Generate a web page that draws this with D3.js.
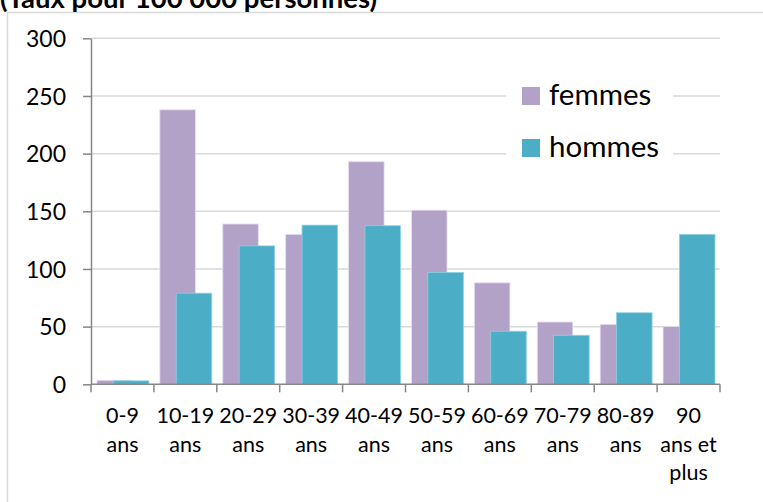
<!DOCTYPE html>
<html><head><meta charset="utf-8">
<script src="https://cdn.jsdelivr.net/npm/d3@7"></script>
<style>
html,body{margin:0;padding:0;background:#fff;overflow:hidden;}
svg{display:block;}
text{font-family:Lato, "Open Sans", sans-serif;fill:#000;}
</style></head>
<body>
<svg id="chart" width="763" height="502"></svg>
<script>
const categories = ["0-9 ans","10-19 ans","20-29 ans","30-39 ans","40-49 ans","50-59 ans","60-69 ans","70-79 ans","80-89 ans","90 ans et plus"];
const categoryLines = [["0-9","ans"],["10-19","ans"],["20-29","ans"],["30-39","ans"],["40-49","ans"],["50-59","ans"],["60-69","ans"],["70-79","ans"],["80-89","ans"],["90","ans et","plus"]];
const femmes = [3.5, 238, 139, 130, 193, 151, 88, 54, 52, 50];
const hommes = [3, 79, 120, 138, 137.5, 97, 46, 42.5, 62, 130];
const seriesNames = ["femmes","hommes"];
const yTicks = [0,50,100,150,200,250,300];
const title = "(Taux pour 100 000 personnes)";

const svg = d3.select("#chart");
const colors = {femmes:"#b2a2c8", hommes:"#4badc6"};

// outer frame
svg.append("line").attr("x1",7.5).attr("x2",763).attr("y1",12.5).attr("y2",12.5).attr("stroke","#d9d9d9").attr("stroke-width",1.5);
svg.append("line").attr("x1",7.5).attr("x2",7.5).attr("y1",12.5).attr("y2",502).attr("stroke","#d9d9d9").attr("stroke-width",1.5);

svg.append("text").attr("x",0).attr("y",7.5).attr("font-weight","bold").attr("font-size",27.5).text(title);

const x0 = 91, x1 = 720, yTop = 38.3, yBot = 384.3;
const x = d3.scaleBand().domain(categories).range([x0,x1]).paddingInner(0).paddingOuter(0);
const y = d3.scaleLinear().domain([0,300]).range([yBot,yTop]);

// gridlines
svg.append("g").selectAll("line").data(yTicks.filter(d=>d>0)).join("line")
  .attr("x1",x0).attr("x2",x1).attr("y1",d=>y(d)).attr("y2",d=>y(d))
  .attr("stroke","#d9d9d9").attr("stroke-width",1.5);

// bars
const bw = x.bandwidth();
const barW = bw*0.565, offF = bw*0.095, offH = bw*0.355;
const g = svg.append("g");
g.selectAll("rect.f").data(femmes).join("rect").attr("class","f")
  .attr("x",(d,i)=>x(categories[i])+offF).attr("width",barW)
  .attr("y",d=>y(d)).attr("height",d=>yBot-y(d))
  .attr("fill",colors.femmes).attr("stroke","#e6dfef").attr("stroke-width",0.8);
g.selectAll("rect.h").data(hommes).join("rect").attr("class","h")
  .attr("x",(d,i)=>x(categories[i])+offH).attr("width",barW)
  .attr("y",d=>y(d)).attr("height",d=>yBot-y(d))
  .attr("fill",colors.hommes).attr("stroke","#8fd0e0").attr("stroke-width",0.8);

// y axis
const yAxis = d3.axisLeft(y).tickValues(yTicks).tickSize(8).tickPadding(17).tickSizeOuter(0);
const ya = svg.append("g").attr("transform",`translate(${x0},0)`).call(yAxis);
ya.selectAll("path,line").attr("stroke","#868686").attr("stroke-width",1.5);
ya.selectAll("text").attr("font-size",23).attr("font-family","Lato").attr("fill","#000").attr("dy","0.36em");

// x axis
const xa = svg.append("g").attr("transform",`translate(0,${yBot})`);
xa.append("line").attr("x1",x0).attr("x2",x1).attr("stroke","#868686").attr("stroke-width",1.5);
const bounds = categories.map(c=>x(c)).concat([x1]);
xa.selectAll("line.t").data(bounds).join("line").attr("class","t")
  .attr("x1",d=>d).attr("x2",d=>d).attr("y1",0).attr("y2",8)
  .attr("stroke","#868686").attr("stroke-width",1.5);
const labs = xa.selectAll("text.l").data(categoryLines).join("text").attr("class","l")
  .attr("text-anchor","middle").attr("font-size",21.5)
  .attr("transform",(d,i)=>`translate(${x(categories[i])+bw/2},0)`);
labs.selectAll("tspan").data(d=>d).join("tspan")
  .attr("x",0).attr("y",(d,i)=>39+i*28.5).text(d=>d);

// legend
const lg = svg.append("g");
lg.append("rect").attr("x",506).attr("y",70).attr("width",167).attr("height",100).attr("fill","#fff");
seriesNames.forEach((s,i)=>{
  const yy = 87 + i*52;
  lg.append("rect").attr("x",522).attr("y",yy).attr("width",18).attr("height",18).attr("fill",colors[s]);
  lg.append("text").attr("x",549).attr("y",yy+18).attr("font-size",29.5).text(s);
});
</script>
</body></html>
